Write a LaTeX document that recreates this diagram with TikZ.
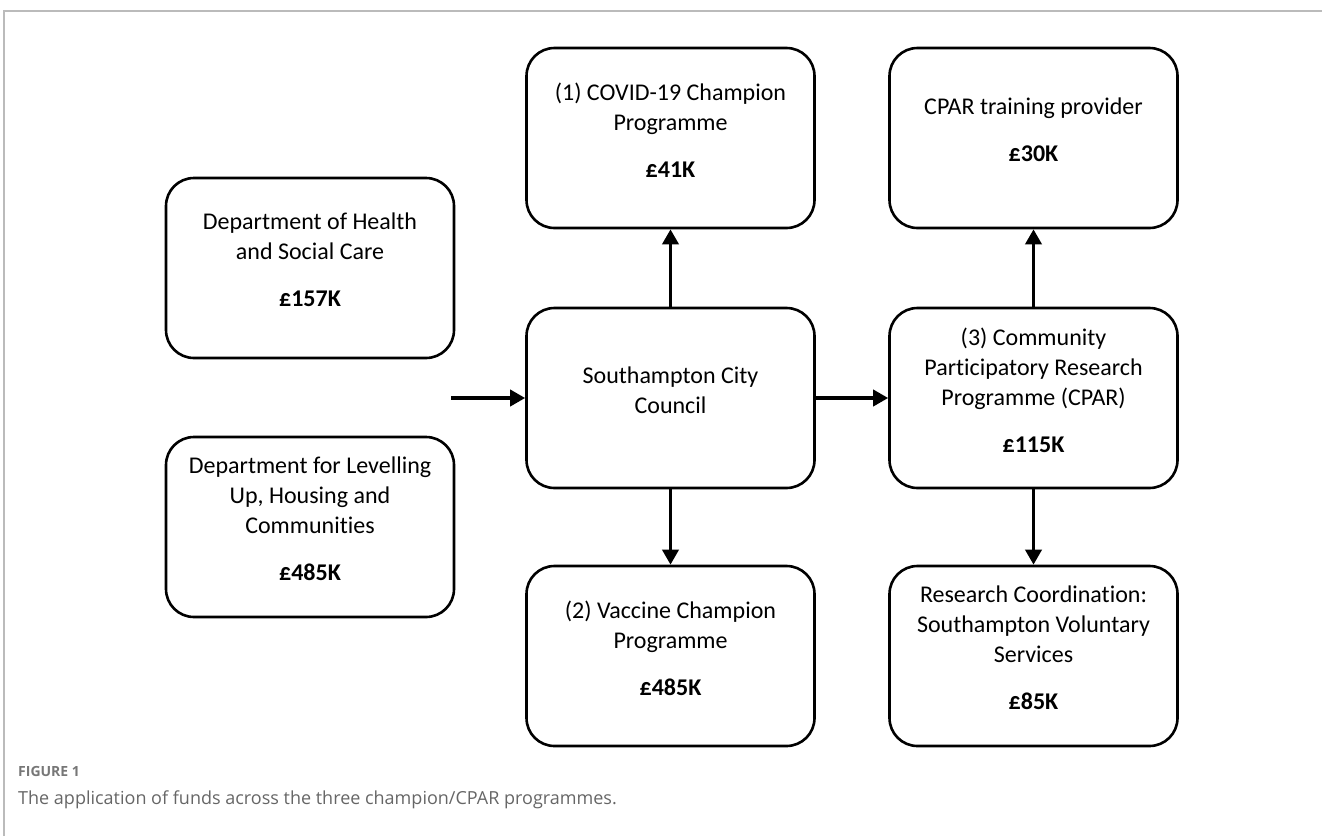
\documentclass[tikz,border=0pt]{standalone}
\usepackage{fontspec}
\setmainfont[Ligatures=CommonOff]{Carlito}
\newfontfamily\capfont{Open Sans}
\usetikzlibrary{arrows.meta}
\definecolor{framegray}{HTML}{BBBBBB}
\definecolor{capgray}{HTML}{666666}
\definecolor{figgray}{HTML}{777777}
\begin{document}
\begin{tikzpicture}[x=1pt,y=-1pt,
  box/.style={draw=black, line width=2.6pt, rounded corners=28pt, minimum width=288pt, minimum height=180pt, inner sep=0pt},
  txt/.style={align=center, inner sep=0pt, font=\fontsize{24}{30}\selectfont},
  arr/.style={-{Triangle[length=15pt,width=16pt]}, line width=3.6pt},
  capstyle/.style={anchor=base west, inner sep=0pt}]
\useasboundingbox (0,0) rectangle (1322,836);
\draw[framegray, line width=1.6pt] (4,836) -- (4,11) -- (1322,11);

% left column
\node[box] (dhsc) at (310,268) {};
\node[txt] (dhscT) at ([yshift=8pt]dhsc.center) {Department of Health\\and Social Care\\[17pt]\textbf{£157K}};
\node[box] (dluhc) at (310,527) {};
\node[txt] (dluhcT) at ([yshift=8pt]dluhc.center) {Department for Levelling\\Up, Housing and\\Communities\\[17pt]\textbf{£485K}};

% middle column
\node[box] (covid) at (670.5,138) {};
\node[txt] (covidT) at ([yshift=8pt]covid.center) {(1) COVID-19 Champion\\Programme\\[17pt]\textbf{£41K}};
\node[box] (council) at (670.5,398) {};
\node[txt] (councilT) at ([yshift=8pt]council.center) {Southampton City\\Council};
\node[box] (vaccine) at (670.5,656) {};
\node[txt] (vaccineT) at ([yshift=8pt]vaccine.center) {(2) Vaccine Champion\\Programme\\[17pt]\textbf{£485K}};

% right column
\node[box] (train) at (1033.5,138) {};
\node[txt] (trainT) at ([yshift=8pt]train.center) {CPAR training provider\\[17pt]\textbf{£30K}};
\node[box] (cpar) at (1033.5,398) {};
\node[txt] (cparT) at ([yshift=8pt]cpar.center) {(3) Community\\Participatory Research\\Programme (CPAR)\\[17pt]\textbf{£115K}};
\node[box] (research) at (1033.5,656) {};
\node[txt] (researchT) at ([yshift=8pt]research.center) {Research Coordination:\\Southampton Voluntary\\Services\\[17pt]\textbf{£85K}};

% arrows
\coordinate (src) at (451,398);
\draw[arr] (src) -- (council.west);
\draw[arr] (council.north) -- (covid.south);
\draw[arr] (council.south) -- (vaccine.north);
\draw[arr] (council.east) -- (cpar.west);
\draw[arr] (cpar.north) -- (train.south);
\draw[arr] (cpar.south) -- (research.north);

% caption
\node[capstyle, text=figgray, font=\capfont\bfseries\fontsize{14}{16}\selectfont] (fig) at (18,776) {FIGURE 1};
\node[capstyle, text=capgray, font=\capfont\fontsize{18}{20}\selectfont] (cap) at (18,804) {The application of funds across the three champion/CPAR programmes.};
\end{tikzpicture}
\end{document}
